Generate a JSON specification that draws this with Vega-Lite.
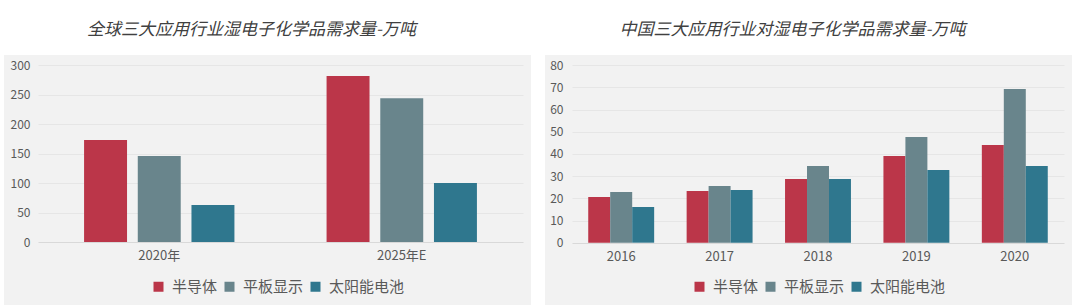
{
  "$schema": "https://vega.github.io/schema/vega-lite/v6.json",
  "background": "white",
  "padding": {"left": 4, "top": 21, "right": 2, "bottom": 0},
  "spacing": 14,
  "config": {
    "view": {"fill": "#f2f2f2", "stroke": null},
    "font": "Noto Sans CJK SC",
    "title": {"fontSize": 17, "fontStyle": "italic", "fontWeight": "normal", "color": "#404040", "font": "Noto Sans CJK SC", "offset": 16, "dx": -16},
    "axis": {"labelFont": "Noto Sans CJK SC", "labelColor": "#595959", "title": null, "ticks": false, "domain": false},
    "legend": {"labelFont": "Noto Sans CJK SC", "labelFontSize": 15, "labelColor": "#595959", "symbolType": "square", "symbolSize": 100, "symbolStrokeWidth": 0, "labelOffset": 6, "columnPadding": 4, "padding": 0, "title": null, "direction": "horizontal", "orient": "none"}
  },
  "resolve": {"scale": {"x": "independent", "y": "independent", "xOffset": "independent", "color": "independent"}},
  "hconcat": [
    {
      "title": "全球三大应用行业湿电子化学品需求量-万吨",
      "width": 527,
      "height": 251,
      "data": {"values": [
        {"year": "2020年", "type": "半导体", "value": 173},
        {"year": "2020年", "type": "平板显示", "value": 146},
        {"year": "2020年", "type": "太阳能电池", "value": 63},
        {"year": "2025年E", "type": "半导体", "value": 282},
        {"year": "2025年E", "type": "平板显示", "value": 244},
        {"year": "2025年E", "type": "太阳能电池", "value": 100}
      ]},
      "mark": {"type": "bar"},
      "encoding": {
        "x": {"field": "year", "type": "nominal", "sort": null,
              "scale": {"range": [34, 519], "paddingInner": 0.38, "paddingOuter": 0.19},
              "axis": {"labelAngle": 0, "labelFontSize": 13, "labelPadding": 7, "offset": -64, "grid": false}},
        "xOffset": {"field": "type", "type": "nominal", "sort": ["半导体", "平板显示", "太阳能电池"],
                    "scale": {"paddingInner": 0.2, "paddingOuter": 0}},
        "y": {"field": "value", "type": "quantitative", "stack": null,
              "scale": {"domain": [-108.66, 317.5], "nice": false, "zero": false},
              "axis": {"values": [0, 50, 100, 150, 200, 250, 300], "labelFontSize": 12, "labelPadding": 8, "offset": -34,
                       "grid": true, "gridDash": [485, 1000],
                       "gridColor": {"condition": {"test": "datum.value === 0", "value": "#d9d9d9"}, "value": "#e6e6e6"}}},
        "color": {"field": "type", "type": "nominal",
                  "scale": {"domain": ["半导体", "平板显示", "太阳能电池"], "range": ["#bb3649", "#69858c", "#2f778e"]},
                  "legend": {"legendX": 147, "legendY": 224}}
      }
    },
    {
      "title": "中国三大应用行业对湿电子化学品需求量-万吨",
      "width": 527,
      "height": 251,
      "data": {"values": [
        {"year": "2016", "type": "半导体", "value": 20.6},
        {"year": "2016", "type": "平板显示", "value": 22.9},
        {"year": "2016", "type": "太阳能电池", "value": 16.1},
        {"year": "2017", "type": "半导体", "value": 23.3},
        {"year": "2017", "type": "平板显示", "value": 25.6},
        {"year": "2017", "type": "太阳能电池", "value": 23.8},
        {"year": "2018", "type": "半导体", "value": 28.7},
        {"year": "2018", "type": "平板显示", "value": 34.6},
        {"year": "2018", "type": "太阳能电池", "value": 28.7},
        {"year": "2019", "type": "半导体", "value": 39.1},
        {"year": "2019", "type": "平板显示", "value": 47.7},
        {"year": "2019", "type": "太阳能电池", "value": 32.8},
        {"year": "2020", "type": "半导体", "value": 44.1},
        {"year": "2020", "type": "平板显示", "value": 69.3},
        {"year": "2020", "type": "太阳能电池", "value": 34.6}
      ]},
      "mark": {"type": "bar"},
      "encoding": {
        "x": {"field": "year", "type": "nominal", "sort": null,
              "scale": {"range": [27, 519], "paddingInner": 0.33, "paddingOuter": 0.165},
              "axis": {"labelAngle": 0, "labelFontSize": 13, "labelPadding": 7, "offset": -63, "grid": false}},
        "xOffset": {"field": "type", "type": "nominal", "sort": ["半导体", "平板显示", "太阳能电池"],
                    "scale": {"paddingInner": 0, "paddingOuter": 0}},
        "y": {"field": "value", "type": "quantitative", "stack": null,
              "scale": {"domain": [-28.55, 84.64], "nice": false, "zero": false},
              "axis": {"values": [0, 10, 20, 30, 40, 50, 60, 70, 80], "labelFontSize": 12, "labelPadding": 9, "offset": -27,
                       "grid": true, "gridDash": [492, 1000],
                       "gridColor": {"condition": {"test": "datum.value === 0", "value": "#d9d9d9"}, "value": "#e6e6e6"}}},
        "color": {"field": "type", "type": "nominal",
                  "scale": {"domain": ["半导体", "平板显示", "太阳能电池"], "range": ["#bb3649", "#69858c", "#2f778e"]},
                  "legend": {"legendX": 147, "legendY": 224}}
      }
    }
  ]
}
